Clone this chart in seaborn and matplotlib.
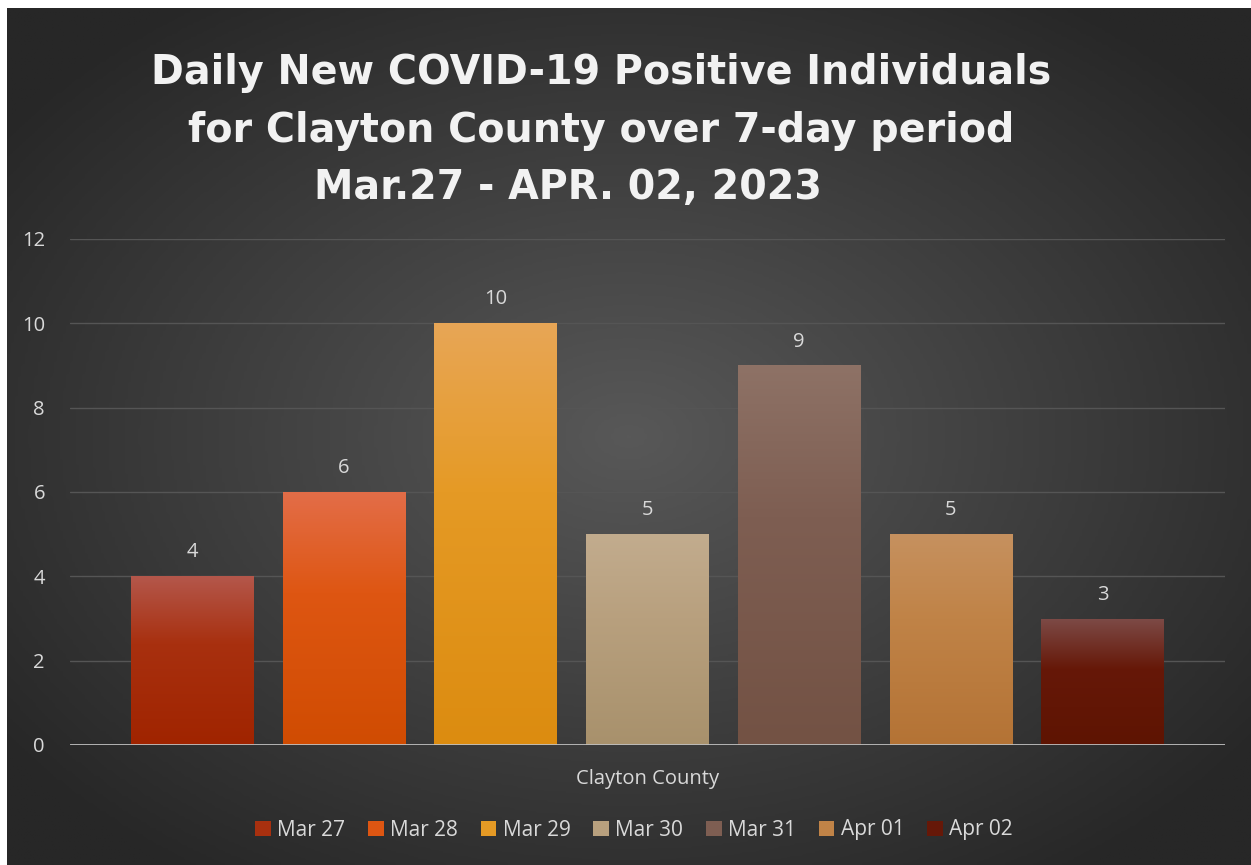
import numpy as np
import pandas as pd
import matplotlib.pyplot as plt
import seaborn as sns
from matplotlib.colors import LinearSegmentedColormap

# data
county = "Clayton County"
dates = ["Mar 27", "Mar 28", "Mar 29", "Mar 30", "Mar 31", "Apr 01", "Apr 02"]
cases = [4, 6, 10, 5, 9, 5, 3]

# gradient colours per bar (top, middle, bottom)
top_colors = ["#B4574B", "#E36D48", "#E8A656", "#C2AC8E", "#8E7266", "#C6915F", "#7D4B47"]
mid_colors = ["#A8300F", "#DE5612", "#E59A25", "#B8A07E", "#7E5E52", "#C08347", "#661808"]
bot_colors = ["#A02400", "#D04C02", "#DC8C10", "#A8916C", "#735244", "#B47335", "#5E1402"]

title_lines = ["Daily New COVID-19 Positive Individuals",
               "for Clayton County over 7-day period",
               "Mar.27 - APR. 02, 2023"]

df = pd.DataFrame({"county": county, "date": dates, "cases": cases})

sns.set_theme(style="dark")
plt.rcParams['font.family'] = ['Open Sans', 'DejaVu Sans']

W, H = 1251, 865
fig = plt.figure(figsize=(W / 100, H / 100), dpi=100, facecolor="white")

# dark radial background
bg = fig.add_axes([7 / W, 0, 1 - 7 / W, 1 - 8 / H])
yy, xx = np.mgrid[0:1:300j, 0:1:400j]
r = np.sqrt(((xx - 0.5) / 0.8) ** 2 + ((yy - 0.5) / 0.8) ** 2)
bg.imshow(r, cmap=LinearSegmentedColormap.from_list("bg", ["#585858", "#272727"]),
          aspect="auto", extent=[0, 1, 0, 1], vmin=0, vmax=0.78)
bg.axis("off")

ax = fig.add_axes([70 / W, 1 - 745 / H, (1225 - 70) / W, (745 - 239) / H])
ax.patch.set_alpha(0)
sns.barplot(data=df, x="county", y="cases", hue="date", palette=mid_colors,
            gap=0.19, saturation=1, linewidth=0, ax=ax, zorder=3)

# gradient fill on each bar
for patch, c_top, c_mid, c_bot in zip(ax.patches, top_colors, mid_colors, bot_colors):
    x0, y0 = patch.get_x(), patch.get_y()
    w, h = patch.get_width(), patch.get_height()
    cmap = LinearSegmentedColormap.from_list("g", [(0, c_bot), (0.6, c_mid), (1, c_top)])
    grad = np.linspace(0, 1, 256).reshape(-1, 1)
    im = ax.imshow(grad, extent=[x0, x0 + w, y0, y0 + h], origin="lower",
                   cmap=cmap, aspect="auto", zorder=4)
    im.set_clip_path(patch)

for cont in ax.containers:
    ax.bar_label(cont, padding=10, color="#d9d9d9", fontsize=14.5)

ax.set_xlim(-0.435, 0.435)
ax.set_ylim(0, 12)
ax.set_yticks(range(0, 13, 2))
ax.yaxis.grid(True, color="#555555", lw=1)
ax.xaxis.grid(False)
ax.axhline(0, color="#bfbfbf", lw=2, zorder=5)
for s in ax.spines.values():
    s.set_visible(False)
ax.tick_params(axis="both", length=0, labelcolor="#d9d9d9", labelsize=14.5)
ax.tick_params(axis="y", pad=18)
ax.tick_params(axis="x", pad=17)
ax.set_xlabel("")
ax.set_ylabel("")

handles, labels = ax.get_legend_handles_labels()
ax.get_legend().remove()
fig.legend(handles, labels, loc="center", bbox_to_anchor=(634 / W, 1 - 830 / H),
           ncol=7, frameon=False, handlelength=0.75, handleheight=0.75,
           labelcolor="#d9d9d9", fontsize=15, columnspacing=1.1, handletextpad=0.3)

for text, xc, yc in zip(title_lines, [601, 601, 568], [73, 131, 188]):
    fig.text(xc / W, 1 - yc / H, text, ha="center", va="center", fontsize=28.5,
             fontweight="bold", color="#f2f2f2", family=["DejaVu Sans"])

fig.savefig("out.png", dpi=100, facecolor=fig.get_facecolor())
